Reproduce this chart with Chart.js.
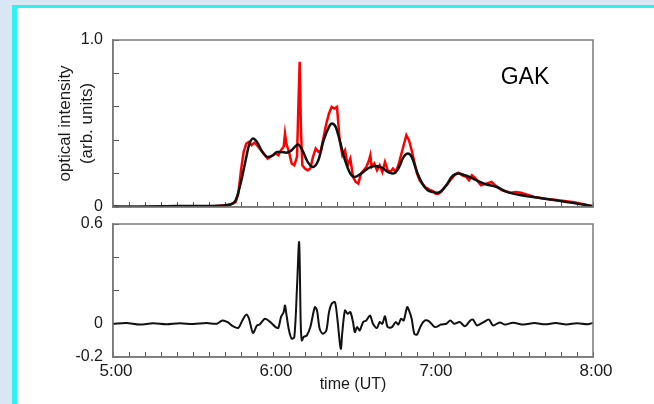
<!DOCTYPE html>
<html>
<head>
<meta charset="utf-8">
<script src="https://cdn.jsdelivr.net/npm/chart.js@4"></script>
<style>
  html, body { margin: 0; padding: 0; }
  body { width: 654px; height: 404px; overflow: hidden; position: relative;
         background: #d9e6f3; }
  #panel { position: absolute; left: 12px; top: 5px; width: 660px; height: 420px;
           background: #fff; border-left: 5px solid #2ff2f2; border-top: 3px solid #2ff2f2; }
  canvas { position: absolute; left: 0; top: 0; }
</style>
</head>
<body>
<div id="panel"></div>
<canvas id="top" width="654" height="404"></canvas>
<canvas id="bottom" width="654" height="404"></canvas>
<script>
// time in minutes after 5:00 UT
const rawTime = [0, 10, 20, 30, 38, 42, 44, 46, 47, 48, 49, 50, 51, 52, 53, 54, 55, 56, 57, 58, 59, 60,
  61, 62, 63, 64, 64.5, 65, 66, 67, 68, 69, 69.6, 70, 70.5, 71, 72, 73, 74, 75, 76, 77, 78, 79, 80,
  81, 82, 83, 84, 85, 86, 87, 88, 89, 90, 91, 92, 93, 94, 95, 96, 96.5, 97, 98, 99, 100, 101, 102,
  103, 104, 105, 106, 107, 108, 109, 110, 111, 112, 113, 114, 115, 116, 117, 118, 119, 120, 121, 122,
  123, 124, 126, 128, 129.5, 131, 132.5, 133.5, 134.6, 136, 138, 140, 142, 144, 146, 149, 151, 153,
  156, 158, 162, 167, 170, 173, 176, 180];
const rawValue = [0.005, 0.0, 0.005, 0.0, 0.005, 0.01, 0.015, 0.03, 0.08, 0.22, 0.33, 0.38, 0.39, 0.37,
  0.385, 0.37, 0.35, 0.33, 0.31, 0.29, 0.30, 0.31, 0.32, 0.31, 0.34, 0.36, 0.44, 0.38, 0.33, 0.26,
  0.25, 0.30, 0.65, 0.87, 0.45, 0.25, 0.23, 0.22, 0.23, 0.30, 0.35, 0.33, 0.34, 0.42, 0.50, 0.56,
  0.60, 0.59, 0.60, 0.40, 0.31, 0.34, 0.25, 0.29, 0.18, 0.15, 0.14, 0.20, 0.22, 0.24, 0.28, 0.31,
  0.24, 0.26, 0.22, 0.25, 0.21, 0.27, 0.22, 0.21, 0.23, 0.21, 0.25, 0.31, 0.37, 0.43, 0.40, 0.34,
  0.27, 0.20, 0.16, 0.14, 0.12, 0.11, 0.10, 0.095, 0.08, 0.08, 0.09, 0.11, 0.15, 0.19, 0.205, 0.19,
  0.18, 0.16, 0.19, 0.17, 0.13, 0.14, 0.15, 0.12, 0.10, 0.085, 0.09, 0.085, 0.07, 0.06, 0.05, 0.04,
  0.035, 0.028, 0.018, 0.005];

const smoothTime = [0, 20, 40, 44, 46, 48, 50, 51, 52.5, 54, 56, 58, 60, 61.5, 63, 65, 67, 69.4, 71, 73,
  75, 77, 79, 81, 82, 83.5, 85, 87, 89, 90.7, 93, 96, 98.2, 101, 103, 105, 107, 109, 110.6, 112, 114,
  116, 118, 120, 121.5, 123, 125, 127, 129.4, 132, 135, 137.6, 140, 144, 147, 150, 153, 157.5, 162,
  166, 170, 175, 180];
const smoothValue = [0.0, 0.005, 0.008, 0.015, 0.04, 0.15, 0.30, 0.37, 0.41, 0.39, 0.33, 0.30, 0.31,
  0.33, 0.33, 0.325, 0.34, 0.375, 0.34, 0.27, 0.24, 0.28, 0.40, 0.48, 0.50, 0.48, 0.40, 0.28, 0.20,
  0.18, 0.20, 0.235, 0.245, 0.235, 0.21, 0.20, 0.23, 0.30, 0.32, 0.30, 0.21, 0.14, 0.10, 0.09, 0.085,
  0.095, 0.13, 0.18, 0.20, 0.19, 0.17, 0.15, 0.135, 0.12, 0.095, 0.08, 0.07, 0.06, 0.05, 0.04, 0.03,
  0.018, 0.005];

const diffTime = [0, 5, 10, 15, 20, 25, 30, 35, 39, 41, 43, 45, 47, 48.5, 50, 51, 52.5, 54, 55, 57, 59,
  61, 62, 63, 64, 64.5, 65, 66, 67, 68, 69, 69.8, 70.4, 70.8, 71.5, 72.7, 74, 75.7, 76.5, 77.5, 78.7,
  80, 81, 82, 83.2, 84, 85.4, 86, 87, 88, 89, 90, 90.7, 91.5, 92.5, 93.8, 95, 96.4, 97.5, 99, 100, 101,
  102, 103, 104.6, 106, 107, 108, 109, 110.3, 111, 112, 113, 114, 115.5, 117, 118.5, 120.7, 123, 125,
  126.5, 128, 130, 132, 134, 135, 136.5, 139, 141, 142.5, 145, 147, 150, 154, 158, 162, 166, 170,
  174, 178, 180];
const diffValue = [0, 0.005, -0.005, 0.003, -0.003, 0.003, -0.002, 0.004, 0.0, 0.02, 0.01, -0.015,
  -0.025, 0.02, 0.055, 0.03, -0.055, -0.01, -0.005, 0.03, 0.01, -0.02, -0.025, 0.04, 0.07, 0.11, 0.06,
  -0.04, -0.09, -0.08, 0.22, 0.49, 0.0, -0.1, -0.08, -0.07, -0.02, 0.10, 0.08, -0.03, -0.06, -0.04,
  0.07, 0.12, 0.13, 0.05, -0.15, -0.05, 0.08, 0.06, 0.07, 0.01, -0.05, -0.02, -0.04, 0.01, 0.02, 0.05,
  0.0, -0.025, 0.01, 0.0, 0.045, -0.02, -0.02, 0.01, -0.005, 0.03, 0.02, 0.10, 0.08, 0.03, -0.06,
  -0.065, -0.01, 0.02, 0.015, -0.02, -0.005, 0.0, 0.02, 0.0, 0.01, -0.015, 0.02, 0.025, -0.01, 0.01,
  0.025, -0.01, 0.008, -0.005, 0.006, -0.005, 0.004, -0.003, 0.004, -0.004, 0.003, -0.003, 0.005];

const hourLabels = ['5:00', '6:00', '7:00', '8:00'];
const topTickLabels = { 0: '0', 1: '1.0' };
const bottomTickLabels = { '-0.2': '-0.2', '0': '0', '0.6': '0.6' };

function pts(xs, ys) {
  return xs.map((x, i) => ({ x: x, y: ys[i] }));
}

// box round the plot area
const framePlugin = {
  id: 'frame',
  afterDraw(chart) {
    const { ctx, chartArea: a } = chart;
    ctx.save();
    ctx.strokeStyle = '#7a7a7a';
    ctx.lineWidth = 1.5;
    ctx.strokeRect(a.left, a.top, a.right - a.left, a.bottom - a.top);
    ctx.restore();
  }
};

const stationPlugin = {
  id: 'station',
  afterDraw(chart) {
    const { ctx, chartArea: a } = chart;
    ctx.save();
    ctx.fillStyle = '#000';
    ctx.font = '23px "Liberation Sans", Arial, sans-serif';
    ctx.textAlign = 'center';
    ctx.textBaseline = 'middle';
    ctx.fillText('GAK', a.right - 68, a.top + 38);
    ctx.restore();
  }
};

const fam = '"Liberation Sans", Arial, sans-serif';
const tickFont = { family: fam, size: 16 };

function xAxis(showLabels) {
  return {
    type: 'linear', min: 0, max: 180,
    grid: { drawOnChartArea: false, tickLength: -5, color: '#555' },
    border: { color: '#7a7a7a', width: 1.5 },
    ticks: {
      stepSize: 6, autoSkip: false, maxRotation: 0, minRotation: 0,
      padding: showLabels ? 9 : 0, color: '#1a1a1a',
      font: { family: fam, size: 17 },
      labelOffset: 3,
      callback: v => (showLabels && v % 60 === 0) ? hourLabels[v / 60] : ''
    },
    title: showLabels ? {
      display: true, text: 'time (UT)', color: '#1a1a1a',
      font: { family: fam, size: 16 },
      padding: { top: 0, bottom: 10 }
    } : { display: false },
    afterFit: s => { s.height = showLabels ? 47 : 10; }
  };
}

new Chart(document.getElementById('top'), {
  type: 'line',
  data: {
    datasets: [
      { label: 'smoothed', data: pts(smoothTime, smoothValue), borderColor: '#111',
        borderWidth: 2.5, pointRadius: 0, cubicInterpolationMode: 'monotone' },
      { label: 'optical', data: pts(rawTime, rawValue), borderColor: '#ff0000',
        borderWidth: 2.5, pointRadius: 0, tension: 0 }
    ]
  },
  options: {
    responsive: false, animation: false, devicePixelRatio: 1,
    layout: { padding: { left: 0, right: 61, top: 40, bottom: 187 } },
    plugins: { legend: { display: false }, tooltip: { enabled: false } },
    scales: {
      x: xAxis(false),
      y: {
        min: 0, max: 1,
        grid: { drawOnChartArea: false, tickLength: -6, color: '#555' },
        border: { color: '#7a7a7a', width: 1.5 },
        ticks: {
          stepSize: 0.2, padding: 16, color: '#1a1a1a', font: tickFont,
          callback: v => topTickLabels[Math.round(v * 10) / 10] || ''
        },
        title: {
          display: true, text: ['optical intensity', '(arb. units)'], color: '#1a1a1a',
          font: { family: fam, size: 17, lineHeight: 1.3 },
          padding: { top: 54, bottom: 0 }
        },
        afterFit: s => { s.width = 113; }
      }
    }
  },
  plugins: [framePlugin, stationPlugin]
});

new Chart(document.getElementById('bottom'), {
  type: 'line',
  data: {
    datasets: [
      { label: 'difference', data: pts(diffTime, diffValue), borderColor: '#111',
        borderWidth: 2, pointRadius: 0, tension: 0.3 }
    ]
  },
  options: {
    responsive: false, animation: false, devicePixelRatio: 1,
    layout: { padding: { left: 0, right: 61, top: 224, bottom: 0 } },
    plugins: { legend: { display: false }, tooltip: { enabled: false } },
    scales: {
      x: xAxis(true),
      y: {
        min: -0.2, max: 0.6,
        grid: { drawOnChartArea: false, tickLength: -6, color: '#555' },
        border: { color: '#7a7a7a', width: 1.5 },
        ticks: {
          stepSize: 0.2, padding: 16, color: '#1a1a1a', font: tickFont,
          callback: v => bottomTickLabels[String(Math.round(v * 10) / 10)] || ''
        },
        afterFit: s => { s.width = 113; }
      }
    }
  },
  plugins: [framePlugin]
});
</script>
</body>
</html>
